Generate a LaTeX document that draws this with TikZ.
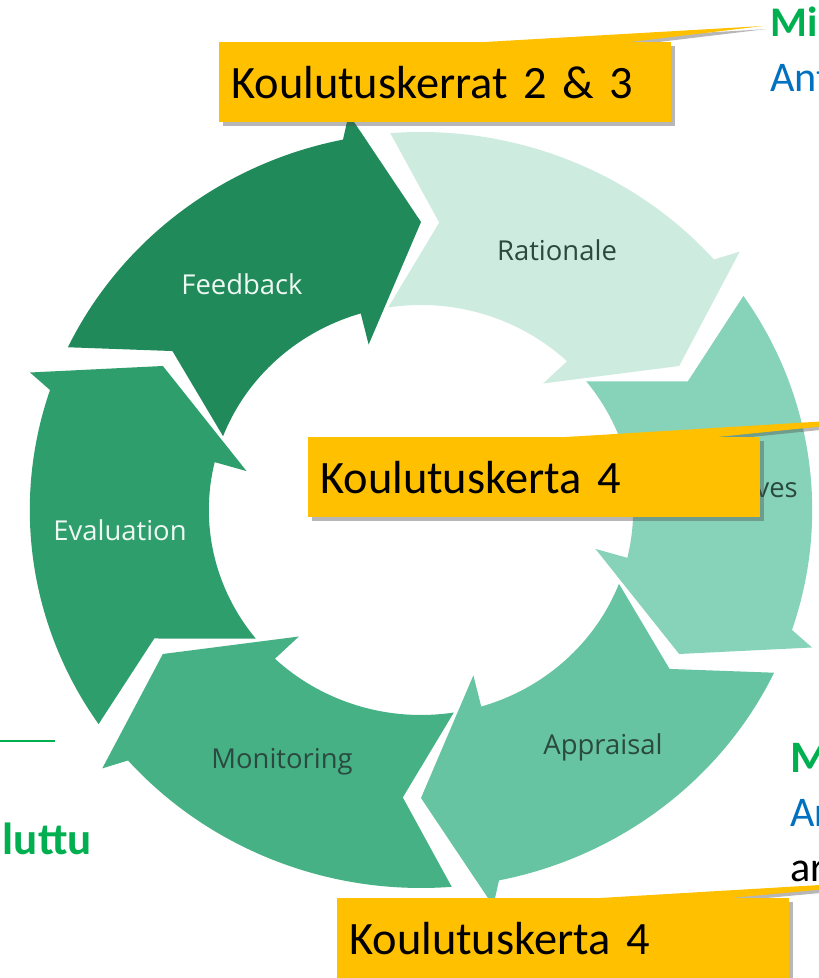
\documentclass[tikz,border=0pt]{standalone}
\usepackage{fontspec}
\setmainfont{Carlito}
\newfontfamily\segoe{Open Sans}
\newfontfamily\calloutfont[WordSpace=0.8]{Carlito}
\usetikzlibrary{shadows}
\definecolor{callyellow}{HTML}{FFC000}
\definecolor{hlgreen}{HTML}{00B050}
\definecolor{hlblue}{HTML}{0070C0}
\definecolor{ringA}{HTML}{CDEBDF}
\definecolor{ringB}{HTML}{87D3B9}
\definecolor{ringC}{HTML}{66C4A2}
\definecolor{ringD}{HTML}{47B186}
\definecolor{ringE}{HTML}{2F9E6D}
\definecolor{ringF}{HTML}{208A5B}
\definecolor{labeldark}{HTML}{2A4A3F}
\definecolor{labellight}{HTML}{EEF8F2}

\begin{document}
\begin{tikzpicture}[x=0.025cm,y=0.025cm,
  callout/.style={fill=callyellow,drop shadow={shadow xshift=0.1cm,shadow yshift=-0.1cm,opacity=0.4,fill=black!70},
    anchor=north west,text width=10.7cm,inner xsep=0.3cm,inner ysep=0pt,minimum height=2cm,align=left,
    font=\calloutfont\fontsize{33}{36}\selectfont},
  wedge/.style={fill=callyellow,drop shadow={shadow xshift=0.06cm,shadow yshift=-0.08cm,opacity=0.4,fill=black!70}},
  ringlabel/.style={font=\segoe\fontsize{19.5}{22}\selectfont,text=labeldark},
  ringlabellight/.style={ringlabel,text=labellight},
  sidetext/.style={inner sep=0pt,font=\fontsize{30}{32}\selectfont}]
\useasboundingbox[fill=white] (0,0) rectangle (818,978);

% cycle arrows
\begin{scope}[shift={(421,468)},xscale=1.035]
\fill[ringA] (94.5:378) arc[start angle=94.5,end angle=41.5,radius=378] -- (40:402) -- (30:288) -- (47:173)
  -- (46.5:205) arc[start angle=46.5,end angle=98.9,radius=205] -- (86.5:288) -- cycle;
\fill[ringB] (34.5:378) arc[start angle=34.5,end angle=-18.5,radius=378] -- (-20:402) -- (-30:288) -- (-13:173)
  -- (-13.5:205) arc[start angle=-13.5,end angle=38.9,radius=205] -- (26.5:288) -- cycle;
\fill[ringC] (-25.5:378) arc[start angle=-25.5,end angle=-78.5,radius=378] -- (-80:402) -- (-90:288) -- (-73:173)
  -- (-73.5:205) arc[start angle=-73.5,end angle=-21.1,radius=205] -- (-33.5:288) -- cycle;
\fill[ringD] (-85.5:378) arc[start angle=-85.5,end angle=-138.5,radius=378] -- (-140:402) -- (-150:288) -- (-133:173)
  -- (-133.5:205) arc[start angle=-133.5,end angle=-81.1,radius=205] -- (-93.5:288) -- cycle;
\fill[ringE] (214.5:378) arc[start angle=214.5,end angle=161.5,radius=378] -- (160:402) -- (150:288) -- (167:173)
  -- (166.5:205) arc[start angle=166.5,end angle=218.9,radius=205] -- (206.5:288) -- cycle;
\fill[ringF] (154.5:378) arc[start angle=154.5,end angle=101.5,radius=378] -- (100:402) -- (90:288) -- (107:173)
  -- (106.5:205) arc[start angle=106.5,end angle=158.9,radius=205] -- (146.5:288) -- cycle;
\end{scope}

\node[ringlabel] (rationale) at (557,728) {Rationale};
\node[ringlabel,anchor=base east,inner sep=0pt] (objectives) at (798,480) {Objectives};
\node[ringlabel] (appraisal) at (603,231) {Appraisal};
\node[ringlabel] (monitoring) at (282,216) {Monitoring};
\node[ringlabellight] (evaluation) at (120,448) {Evaluation};
\node[ringlabellight] (feedback) at (242,694) {Feedback};

% cut-off side texts
\node[sidetext,anchor=base west,text=hlgreen,font=\bfseries\fontsize{30}{32}\selectfont] (mi) at (770,941) {Mi};
\node[sidetext,anchor=base west,text=hlblue] (ant) at (770,886) {Ant};
\node[sidetext,anchor=base west,text=hlgreen,font=\bfseries\fontsize{32}{34}\selectfont] (mm) at (790,205) {M};
\node[sidetext,anchor=base west,text=hlblue] (ar) at (790,151) {Ar};
\node[sidetext,anchor=base west] (arlow) at (790,96) {ar};
\node[sidetext,anchor=base east,text=hlgreen,font=\bfseries\fontsize{32}{34}\selectfont] (luttu) at (92,123) {luttu};
\coordinate (lineL) at (0,237);
\coordinate (lineR) at (55,237);
\draw[hlgreen,line width=2.1pt] (lineL) -- (lineR);

% callouts
\coordinate (boxA) at (219,936);
\coordinate (boxB) at (308,541);
\coordinate (boxC) at (337,80);
\coordinate (tipA) at (763,952);
\coordinate (tipB) at (944,564);
\coordinate (tipC) at (955,101);
\fill[wedge] ([xshift=6.65cm]boxA) -- (tipA) -- ([xshift=10.275cm]boxA) -- cycle;
\fill[wedge] ([xshift=6.45cm]boxB) -- (tipB) -- ([xshift=10.225cm]boxB) -- cycle;
\fill[wedge] ([xshift=6.575cm]boxC) -- (tipC) -- ([xshift=9.825cm]boxC) -- cycle;
\node[callout] (kk23) at (boxA) {Koulutuskerrat 2 \& 3};
\node[callout] (kk4mid) at (boxB) {Koulutuskerta 4};
\node[callout] (kk4low) at (boxC) {Koulutuskerta 4};
\end{tikzpicture}
\end{document}
